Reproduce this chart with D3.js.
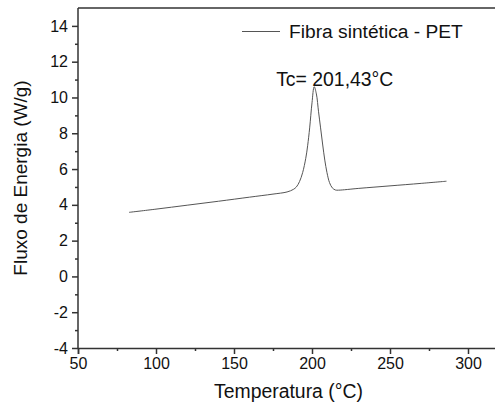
<!DOCTYPE html>
<html>
<head>
<meta charset="utf-8">
<script src="https://cdn.jsdelivr.net/npm/d3@7"></script>
<style>
  body { margin: 0; background: #fff; }
  svg { font-family: "Liberation Sans", Arial, sans-serif; }
</style>
</head>
<body>
<svg id="chart"></svg>
<script>
// DSC curve
var temps  = [82.7, 100, 120, 140, 160, 175, 184, 188, 190, 192, 194, 196, 197.2, 198.5, 200, 201.4, 202.8, 204.2, 205.5, 206.8, 208.2, 209.6, 211.2, 213, 215, 217, 230, 250, 270, 286.2];
var fluxes = [3.58, 3.76, 3.98, 4.20, 4.43, 4.60, 4.72, 4.86, 5.0, 5.3, 5.8, 6.6, 7.3, 8.3, 9.7, 10.6, 10.2, 9.2, 8.3, 7.4, 6.5, 5.8, 5.25, 4.95, 4.83, 4.82, 4.92, 5.06, 5.2, 5.32];
var xTicks = [50, 100, 150, 200, 250, 300];
var xMinor = [75, 125, 175, 225, 275];
var yTicks = [-4, -2, 0, 2, 4, 6, 8, 10, 12, 14];
var yMinor = [-3, -1, 1, 3, 5, 7, 9, 11, 13];
var seriesName = "Fibra sintética - PET";
var peakLabel = "Tc= 201,43°C";
var peakT = 201.4, peakV = 10.6;

var width = 495, height = 404;
var margin = {top: 8, left: 78, bottom: 56};

var svg = d3.select("#chart")
    .attr("width", width)
    .attr("height", height);

var x = d3.scaleLinear()
    .domain([50, 320])
    .range([margin.left, margin.left + 270 * 1.56]);

var y = d3.scaleLinear()
    .domain([-4, 15])
    .range([height - margin.bottom, margin.top]);

var axisColor = "#333";
var plain = d => String(d);

// frame top line
svg.append("line")
    .attr("x1", x(50)).attr("x2", x(320))
    .attr("y1", y(15)).attr("y2", y(15))
    .style("stroke", axisColor)
    .style("stroke-width", 1.5);

// x axis
svg.append("g")
    .attr("transform", "translate(0," + y(-4) + ")")
    .call(d3.axisBottom(x).tickValues(xTicks).tickSize(6).tickPadding(4).tickFormat(plain));

svg.append("g")
    .attr("transform", "translate(0," + y(-4) + ")")
    .call(d3.axisBottom(x).tickValues(xMinor).tickSize(3).tickFormat(""))
    .select(".domain").remove();

// y axis
var yAxis = svg.append("g")
    .attr("transform", "translate(" + x(50) + ",0)")
    .call(d3.axisLeft(y).tickValues(yTicks).tickSize(6).tickPadding(4).tickFormat(plain));

svg.append("g")
    .attr("transform", "translate(" + x(50) + ",0)")
    .call(d3.axisLeft(y).tickValues(yMinor).tickSize(3).tickFormat(""))
    .select(".domain").remove();

svg.selectAll(".domain, .tick line")
    .style("stroke", axisColor)
    .style("stroke-width", 1.5);

svg.selectAll(".tick text")
    .style("font-size", "16px")
    .style("fill", "#111")
    .style("font-family", "Liberation Sans, Arial, sans-serif");

yAxis.selectAll(".domain").attr("d", "M0," + y(15) + "V" + y(-4));

// curve
var points = temps.map(function (t, i) { return [t, fluxes[i]]; });

var line = d3.line()
    .x(d => x(d[0]))
    .y(d => y(d[1]))
    .curve(d3.curveCatmullRom.alpha(0.5));

svg.append("path")
    .datum(points)
    .attr("d", line)
    .style("fill", "none")
    .style("stroke", "#555")
    .style("stroke-width", 1);

// legend
svg.append("line")
    .attr("x1", 242).attr("x2", 280)
    .attr("y1", 31.5).attr("y2", 31.5)
    .style("stroke", "#555")
    .style("stroke-width", 1);

svg.append("text")
    .attr("x", 289)
    .attr("y", 38)
    .style("font-size", "19.2px")
    .style("fill", "#111")
    .text(seriesName);

// peak label
svg.append("text")
    .attr("x", x(peakT) - 38)
    .attr("y", y(peakV) - 0.5)
    .style("font-size", "19.4px")
    .style("fill", "#111")
    .text(peakLabel);

// axis titles
svg.append("text")
    .attr("x", 288.5)
    .attr("y", 398)
    .style("text-anchor", "middle")
    .style("font-size", "19.4px")
    .style("fill", "#111")
    .text("Temperatura (°C)");

svg.append("text")
    .attr("transform", "translate(27," + ((y(15) + y(-4)) / 2) + ") rotate(-90)")
    .style("text-anchor", "middle")
    .style("font-size", "19px")
    .style("fill", "#111")
    .text("Fluxo de Energia (W/g)");
</script>
</body>
</html>
